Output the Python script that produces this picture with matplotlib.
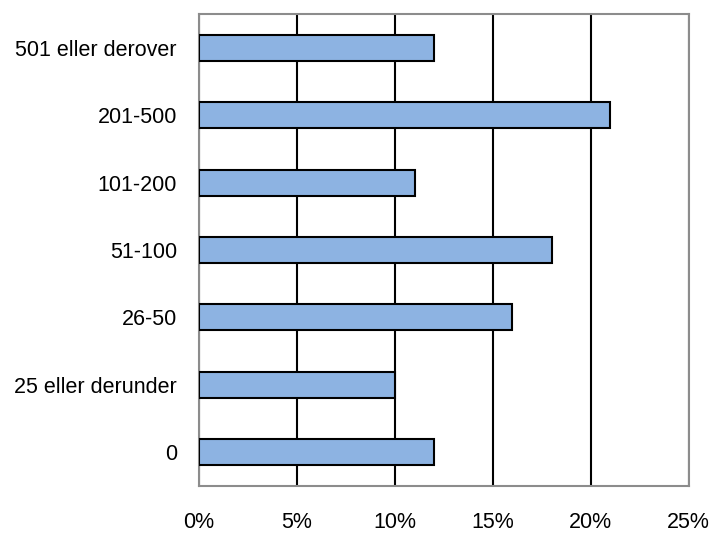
import matplotlib
matplotlib.use("Agg")
import matplotlib.pyplot as plt
from matplotlib.ticker import FuncFormatter

plt.rcParams['font.family'] = ['Liberation Sans', 'DejaVu Sans']

categories = ["0", "25 eller derunder", "26-50", "51-100", "101-200", "201-500", "501 eller derover"]
values = [12, 10, 16, 18, 11, 21, 12]
xticks = [0, 5, 10, 15, 20, 25]

fig = plt.figure(figsize=(7.16, 5.34), dpi=100)
ax = fig.add_axes([0.278, 0.0899, 0.684, 0.884])

ax.barh(range(len(categories)), values, height=0.385, color="#8DB3E2",
        edgecolor="black", linewidth=1.5, zorder=3)

ax.set_xlim(0, 25)
ax.set_ylim(-0.5, len(categories) - 0.5)
ax.set_xticks(xticks)
ax.xaxis.set_major_formatter(FuncFormatter(lambda v, p: f"{v:.0f}%"))
ax.set_yticks(range(len(categories)))
ax.set_yticklabels(categories)

ax.grid(axis="x", color="black", linewidth=1.5, zorder=1)
ax.set_axisbelow(True)
for s in ax.spines.values():
    s.set_color("#8C8C8C")
    s.set_linewidth(1.5)

ax.tick_params(axis="x", length=0, pad=19, labelsize=15.5)
ax.tick_params(axis="y", length=0, pad=16, labelsize=15.5)

fig.savefig("out.png", dpi=100)
